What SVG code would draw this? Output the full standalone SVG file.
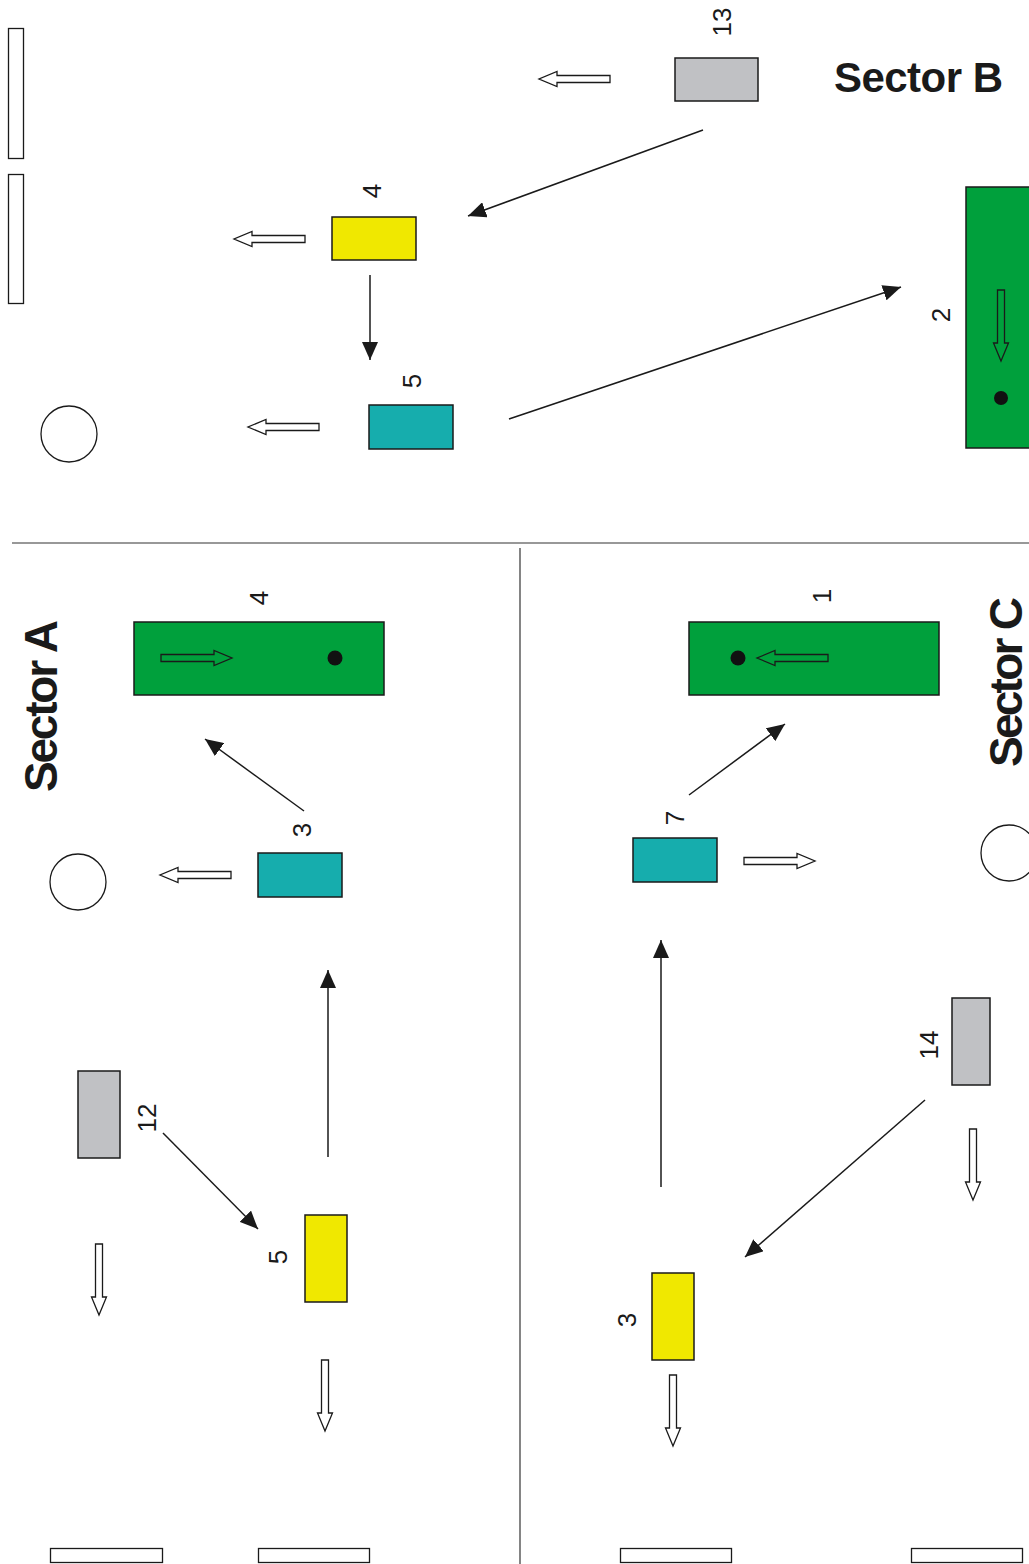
<svg xmlns="http://www.w3.org/2000/svg" xmlns:xlink="http://www.w3.org/1999/xlink" width="1029" height="1564" viewBox="0 0 1029 1564">
<style>
.bx{stroke:#1a1a1a;stroke-width:1.5}
.g{fill:#00a03c}.y{fill:#f0e800}.t{fill:#16adad}.gr{fill:#c0c1c4}
.wh{fill:#fff;stroke:#1a1a1a;stroke-width:1.3}
.num{font-family:"Liberation Sans",Arial,sans-serif;font-size:26px;fill:#1a1a1a;text-anchor:middle;dominant-baseline:central}
.sec{font-family:"Liberation Sans",Arial,sans-serif;font-weight:bold;font-size:42px;fill:#1a1a1a}
.ln{stroke:#1a1a1a;stroke-width:1.5;fill:none;marker-end:url(#ah)}
.div{stroke:#333;stroke-width:1.2}
.ng{fill:none}
</style>
<defs>
<marker id="ah" markerUnits="userSpaceOnUse" markerWidth="20" markerHeight="16" refX="18" refY="8" orient="auto">
<path d="M0,0 L18,8 L0,16 Z" fill="#1a1a1a"/>
</marker>
<path id="ba" d="M0,-3.5 H53 V-7.5 L71,0 L53,7.5 V3.5 H0 Z" fill="#fff" stroke="#1a1a1a" stroke-width="1.3"/>
<path id="bo" d="M0,-3.5 H53 V-7.5 L71,0 L53,7.5 V3.5 H0 Z" fill="none" stroke="#1a1a1a" stroke-width="1.3"/>
</defs>

<!-- dividers -->
<line class="div" x1="12" y1="543" x2="1029" y2="543"/>
<line class="div" x1="520" y1="548" x2="520" y2="1564"/>

<!-- Sector B -->
<g id="sectorB-title"><text class="sec" x="834" y="92" textLength="169">Sector B</text></g>
<g id="bar-b1"><rect class="wh" x="8.5" y="28.5" width="15" height="130"/></g>
<g id="bar-b2"><rect class="wh" x="8.5" y="174.5" width="15" height="129"/></g>
<g id="circle-b"><circle class="wh" cx="69" cy="434" r="28"/></g>
<g id="node-b13">
<rect class="bx gr" x="675" y="58" width="83" height="43"/>
<text class="num" transform="translate(722,22) rotate(-90)">13</text>
<use xlink:href="#ba" transform="translate(610,79) rotate(180)"/>
</g>
<g id="node-b4">
<rect class="bx y" x="332" y="217" width="84" height="43"/>
<text class="num" transform="translate(372,191) rotate(-90)">4</text>
<use xlink:href="#ba" transform="translate(305,239) rotate(180)"/>
</g>
<g id="node-b5">
<rect class="bx t" x="369" y="405" width="84" height="44"/>
<text class="num" transform="translate(412,381) rotate(-90)">5</text>
<use xlink:href="#ba" transform="translate(319,427) rotate(180)"/>
</g>
<g id="node-b2">
<rect class="bx g" x="966" y="187" width="70" height="261"/>
<text class="num" transform="translate(941,315) rotate(-90)">2</text>
<use xlink:href="#bo" transform="translate(1001,290) rotate(90)"/>
<circle cx="1001" cy="398" r="7" fill="#111"/>
</g>

<!-- Sector A -->
<g id="sectorA-title"><text class="sec" transform="translate(57,792) rotate(-90)" style="font-size:46px" textLength="172">Sector A</text></g>
<g id="node-a4">
<rect class="bx g" x="134" y="622" width="250" height="73"/>
<text class="num" transform="translate(259,598) rotate(-90)">4</text>
<use xlink:href="#bo" transform="translate(161,658)"/>
<circle cx="335" cy="658" r="7.5" fill="#111"/>
</g>
<g id="node-a3">
<rect class="bx t" x="258" y="853" width="84" height="44"/>
<text class="num" transform="translate(302,830) rotate(-90)">3</text>
<use xlink:href="#ba" transform="translate(231,875) rotate(180)"/>
</g>
<g id="circle-a"><circle class="wh" cx="78" cy="882" r="28"/></g>
<g id="node-a12">
<rect class="bx gr" x="78" y="1071" width="42" height="87"/>
<text class="num" transform="translate(147,1118) rotate(-90)">12</text>
<use xlink:href="#ba" transform="translate(99,1244) rotate(90)"/>
</g>
<g id="node-a5">
<rect class="bx y" x="305" y="1215" width="42" height="87"/>
<text class="num" transform="translate(278,1257) rotate(-90)">5</text>
<use xlink:href="#ba" transform="translate(325,1360) rotate(90)"/>
</g>
<g id="bar-a1"><rect class="wh" x="50.5" y="1548.5" width="112" height="14"/></g>
<g id="bar-a2"><rect class="wh" x="258.5" y="1548.5" width="111" height="14"/></g>

<!-- Sector C -->
<g id="sectorC-title"><text class="sec" transform="translate(1022,767) rotate(-90)" style="font-size:46px" textLength="170">Sector C</text></g>
<g id="node-c1">
<rect class="bx g" x="689" y="622" width="250" height="73"/>
<text class="num" transform="translate(822,596) rotate(-90)">1</text>
<use xlink:href="#bo" transform="translate(828,658) rotate(180)"/>
<circle cx="738" cy="658" r="7.5" fill="#111"/>
</g>
<g id="node-c7">
<rect class="bx t" x="633" y="838" width="84" height="44"/>
<text class="num" transform="translate(675,818) rotate(-90)">7</text>
<use xlink:href="#ba" transform="translate(744,861)"/>
</g>
<g id="circle-c"><circle class="wh" cx="1009" cy="853" r="28"/></g>
<g id="node-c14">
<rect class="bx gr" x="952" y="998" width="38" height="87"/>
<text class="num" transform="translate(929,1045) rotate(-90)">14</text>
<use xlink:href="#ba" transform="translate(973,1129) rotate(90)"/>
</g>
<g id="node-c3">
<rect class="bx y" x="652" y="1273" width="42" height="87"/>
<text class="num" transform="translate(627,1320) rotate(-90)">3</text>
<use xlink:href="#ba" transform="translate(673,1375) rotate(90)"/>
</g>
<g id="bar-c1"><rect class="wh" x="620.5" y="1548.5" width="111" height="14"/></g>
<g id="bar-c2"><rect class="wh" x="911.5" y="1548.5" width="111" height="14"/></g>

<!-- connectors -->
<g id="connectors">
<line class="ln" x1="703" y1="130" x2="468" y2="216"/>
<line class="ln" x1="370" y1="275" x2="370" y2="360"/>
<line class="ln" x1="509" y1="419" x2="901" y2="287"/>
<line class="ln" x1="304" y1="811" x2="205" y2="739"/>
<line class="ln" x1="328" y1="1157" x2="328" y2="970"/>
<line class="ln" x1="163" y1="1133" x2="258" y2="1229"/>
<line class="ln" x1="689" y1="795" x2="785" y2="724"/>
<line class="ln" x1="661" y1="1187" x2="661" y2="940"/>
<line class="ln" x1="925" y1="1100" x2="745" y2="1257"/>
</g>
</svg>
